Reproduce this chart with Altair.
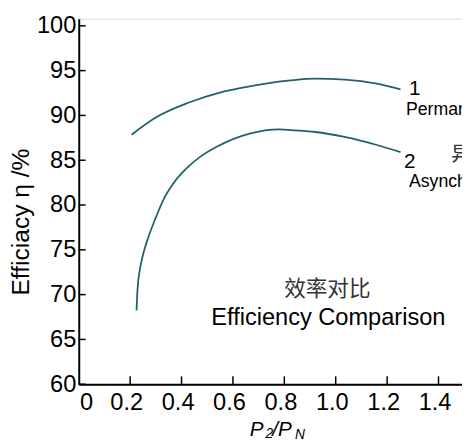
import altair as alt
import pandas as pd

# Curve 1 (permanent magnet motor)
x1 = [0.2057, 0.3013, 0.429, 0.556, 0.633, 0.728, 0.824, 0.92, 1.035, 1.16, 1.252]
y1 = [87.85, 89.79, 91.44, 92.61, 93.08, 93.55, 93.9, 94.1, 94.0, 93.55, 92.9]
# Curve 2 (asynchronous motor)
x2 = [0.2249, 0.2287, 0.2379, 0.2505, 0.2696, 0.3013, 0.3335, 0.3652, 0.4161, 0.4734,
      0.537, 0.665, 0.779, 0.843, 0.92, 1.034, 1.16, 1.252]
y2 = [68.22, 70.6, 72.8, 74.5, 76.3, 78.7, 80.83, 82.3, 84.0, 85.4,
      86.5, 87.96, 88.44, 88.33, 88.15, 87.6, 86.7, 85.9]

x_ticks = [0, 0.2, 0.4, 0.6, 0.8, 1.0, 1.2, 1.4]
y_ticks = [60, 65, 70, 75, 80, 85, 90, 95, 100]

df = pd.concat([
    pd.DataFrame({"x": x1, "y": y1, "s": "1"}),
    pd.DataFrame({"x": x2, "y": y2, "s": "2"}),
])
dfx = pd.DataFrame({"v": x_ticks})
dfy = pd.DataFrame({"v": y_ticks})

W, H = 390, 372
FONT = "Liberation Sans"
xs = alt.Scale(domain=[0, 1.4914], nice=False, zero=False)
ys = alt.Scale(domain=[60, 100.8], nice=False, zero=False)

xaxis = alt.Axis(
    values=x_ticks, title=None, grid=False, ticks=False,
    domainColor="black", domainWidth=2, labelFont=FONT, labelFontSize=24,
    labelColor="black", labelFlush=False, labelOverlap=False,
    labelOffset=-4, labelPadding=7,
    labelExpr="datum.value == 0 ? '' : format(datum.value, '.1f')",
)
yaxis = alt.Axis(
    values=y_ticks, title=None, grid=False, ticks=False,
    domainColor="black", domainWidth=2, labelFont=FONT, labelFontSize=24,
    labelColor="black", labelPadding=3, labelFlush=False, labelOverlap=False,
)

lines = alt.Chart(df).mark_line(interpolate="monotone", strokeWidth=1.8).encode(
    x=alt.X("x:Q", scale=xs, axis=xaxis),
    y=alt.Y("y:Q", scale=ys, axis=yaxis),
    detail="s:N",
    color=alt.value("#23606e"),
)

yt = alt.Chart(dfy).mark_rule(color="black", strokeWidth=1.5).encode(
    y=alt.Y("v:Q", scale=ys, axis=yaxis), x=alt.value(0), x2=alt.value(7))
xt = alt.Chart(dfx[dfx.v > 0]).mark_rule(color="black", strokeWidth=1.5).encode(
    x=alt.X("v:Q", scale=xs, axis=xaxis), y=alt.value(H), y2=alt.value(H - 8))


def txt(s, x, y, size, font=FONT, align="left", baseline="alphabetic", angle=0, style="normal", color="black"):
    kw = dict(text=s, font=font, fontSize=size, align=align, baseline=baseline, color=color, fontStyle=style)
    if angle:
        kw["angle"] = angle
    return alt.Chart().mark_text(**kw).encode(x=alt.value(x), y=alt.value(y))


texts = [
    txt("0", 8, 398, 24, align="center"),
    txt("1", 336, 78, 21),
    txt("Permanent Magnet Synchronous Motor", 333, 98, 18),
    txt("2", 331, 152, 21),
    txt("异步电机", 379, 139, 21, font="Noto Sans CJK SC", baseline="middle", color="#333333"),
    txt("Asynchronous Motor", 336, 171, 18),
    txt("效率对比", 253, 275, 22, font="Noto Sans CJK SC", align="center", baseline="middle", color="#333333"),
    txt("Efficiency Comparison", 254, 312, 24, align="center"),
    txt("Efficiacy η /%", -59, 207, 25, align="center", baseline="middle", angle=270),
    txt("P", 174, 425, 21, style="italic"),
    txt("2", 190, 427, 14, style="italic"),
    txt("/P", 197, 425, 21, style="italic"),
    txt("N", 220, 428, 14, style="italic"),
]

chart = alt.layer(lines, yt, xt, *texts).properties(
    width=W, height=H,
    autosize=alt.AutoSizeParams(type="none"),
    padding={"left": 72, "top": 7, "right": 0, "bottom": 58},
).configure_view(stroke=None).configure(background="white")

chart.save("out.html", embed_options={"renderer": "svg", "actions": False})
